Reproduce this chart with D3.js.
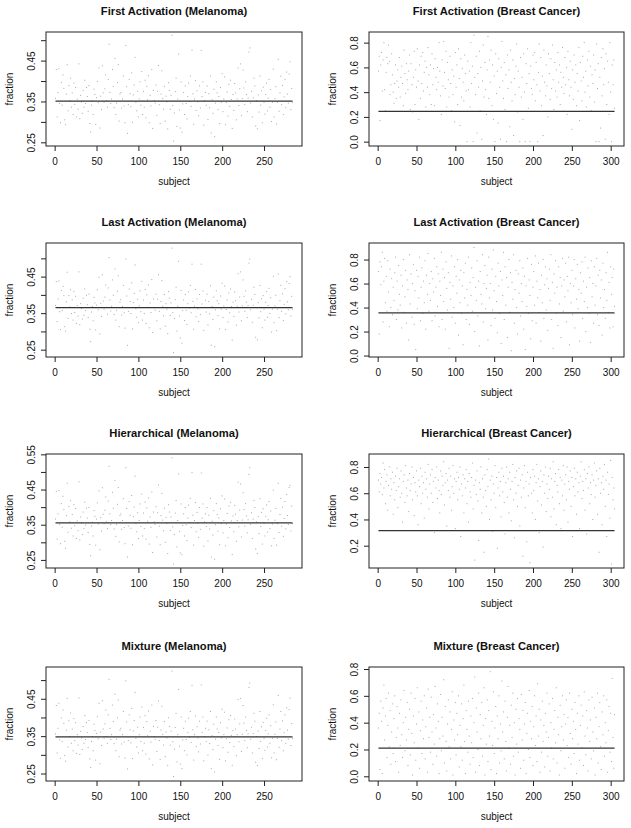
<!DOCTYPE html>
<html>
<head>
<meta charset="utf-8" />
<title>fraction by subject</title>
<script src="https://cdn.jsdelivr.net/npm/d3@7/dist/d3.min.js"></script>
<style>
  body { margin: 0; background: #fff; }
  text { font-family: "Liberation Sans", Arial, Helvetica, sans-serif; fill: #111; }
</style>
</head>
<body>
<div id="chart"></div>
<script>
// melanoma series, values x1000
var faMel = [358,428,312,372,430,345,298,396,341,415,382,305,293,368,440,327,389,352,407,336,
  371,318,395,343,384,312,356,331,442,308,365,349,321,377,336,402,345,384,362,326,
  389,296,275,341,352,318,380,367,294,359,399,347,432,285,363,330,437,371,348,381,
  415,352,336,404,490,372,345,356,428,387,335,455,318,346,396,440,302,368,372,334,
  356,412,339,298,487,386,272,342,404,369,337,420,299,366,390,458,348,327,375,312,
  356,398,341,423,318,374,336,402,310,387,354,413,298,365,339,428,284,377,352,346,
  390,316,375,438,342,296,368,425,357,331,387,302,363,349,283,396,377,331,365,512,
  340,253,322,374,407,289,356,466,329,285,398,275,344,372,318,388,345,307,362,395,
  350,412,338,476,369,294,356,401,328,376,349,315,388,334,475,362,398,292,352,372,
  341,388,306,369,335,412,273,354,321,380,264,346,398,371,330,362,296,384,348,418,
  325,356,410,293,347,373,314,392,338,402,355,284,367,328,394,371,305,356,432,340,
  381,442,316,357,427,383,342,398,367,325,358,471,481,346,375,312,359,407,388,290,
  352,283,366,324,412,341,376,298,385,348,319,367,395,327,358,404,336,379,301,348,
  429,312,357,386,295,348,453,326,371,412,342,389,318,361,404,335,422,368,346,417,
  447,330,382,348];
var laMel = [371,436,327,389,438,354,305,412,357,423,398,313,301,381,462,336,398,367,414,349,
  386,331,409,352,396,322,371,342,463,318,376,363,334,391,344,416,357,399,373,338,
  402,306,272,353,368,329,393,378,304,372,414,359,448,293,377,341,455,383,361,394,
  427,366,347,419,502,386,356,369,441,399,346,471,331,358,410,452,313,380,387,345,
  368,426,351,309,498,397,262,355,416,382,349,433,307,379,404,482,362,339,388,324,
  370,411,354,437,331,386,349,415,322,400,366,427,310,378,352,442,297,389,365,358,
  402,329,388,455,355,307,382,439,369,343,401,314,376,361,294,409,391,344,378,528,
  352,242,335,387,421,301,369,492,342,282,412,268,357,386,330,401,358,319,376,408,
  364,426,351,484,382,306,369,415,340,389,362,327,401,346,484,375,411,303,366,385,
  353,402,318,382,348,425,262,368,333,394,258,359,411,384,343,376,307,397,361,432,
  338,370,424,305,360,386,326,405,351,416,368,276,380,341,408,384,317,369,458,353,
  394,463,329,370,441,396,355,411,380,338,371,487,498,359,388,325,372,421,401,284,
  365,277,379,337,426,354,389,310,398,361,331,380,409,339,371,418,349,392,298,361,
  451,324,370,399,302,361,457,338,384,426,355,403,330,374,417,348,436,381,359,431,
  450,342,396,361];
var hiMel = [366,445,309,381,447,351,296,410,343,431,393,303,283,376,468,329,402,358,418,340,
  379,318,407,347,396,311,361,333,472,307,372,355,322,386,339,414,349,397,369,328,
  399,294,262,346,357,318,390,374,292,366,412,352,446,279,370,332,455,380,353,391,
  429,358,339,417,516,381,350,362,442,397,338,476,317,351,408,456,301,376,381,337,
  362,424,342,296,512,396,258,346,416,377,340,433,293,373,400,488,353,330,384,311,
  362,409,345,437,318,383,339,414,309,398,360,426,295,372,343,443,271,386,358,351,
  401,315,384,463,346,293,376,439,363,333,397,300,370,354,268,407,386,334,372,540,
  344,238,322,383,419,287,362,494,331,270,409,265,348,381,318,399,350,305,369,406,
  356,425,342,498,377,292,362,413,330,385,354,314,399,337,497,369,409,289,358,381,
  345,399,304,377,338,425,258,360,321,390,252,350,410,379,332,369,293,395,353,432,
  327,362,423,290,352,382,313,403,342,414,361,265,375,330,405,380,303,362,471,344,
  392,466,315,363,441,393,346,410,375,327,364,493,512,351,384,311,366,419,399,281,
  358,268,373,325,424,345,385,295,395,353,318,374,406,329,364,416,339,389,290,352,
  448,311,363,396,292,353,468,328,379,425,346,400,317,368,416,338,436,376,351,456,
  462,332,403,353];
var mxMel = [356,432,305,371,438,340,291,399,336,420,384,298,283,366,451,321,391,349,412,331,
  369,311,397,338,386,304,354,326,452,301,363,345,314,376,331,405,341,386,360,320,
  392,289,266,336,349,311,382,365,286,357,402,343,438,276,361,325,445,369,345,383,
  420,349,331,407,502,371,341,354,433,389,330,462,311,342,399,447,295,366,371,329,
  354,416,334,291,498,388,262,338,407,367,332,424,290,364,392,467,344,321,374,305,
  354,401,336,428,311,373,331,405,302,389,351,417,289,363,334,433,273,376,349,342,
  392,309,374,444,338,288,366,430,355,326,389,295,361,345,272,399,376,326,363,524,
  335,242,315,373,411,281,354,475,323,275,401,263,340,371,311,390,341,300,360,398,
  347,416,333,486,367,286,354,404,322,375,345,308,390,329,487,360,401,284,349,371,
  336,390,299,367,330,416,263,351,314,382,254,342,401,369,325,360,288,386,345,422,
  319,354,414,284,343,372,307,394,333,405,352,272,365,322,396,369,298,354,448,335,
  383,451,309,355,432,385,338,401,365,319,356,480,492,342,374,305,357,411,390,280,
  349,271,364,317,416,336,375,290,387,344,312,365,398,321,356,407,331,378,292,344,
  434,305,355,388,287,344,459,320,369,416,338,391,311,359,407,330,426,366,342,421,
  452,325,384,344];

// breast cancer series, values x100
var faBc = [57,69,17,62,72,41,66,80,42,25,56,68,63,78,65,38,46,71,54,40,
  31,47,62,35,49,58,44,68,36,52,61,47,29,74,55,39,63,50,42,57,
  70,26,63,46,24,52,73,30,58,44,75,49,18,62,35,69,47,72,41,56,
  65,28,60,44,76,54,38,62,30,71,46,59,29,67,52,42,60,48,80,57,
  37,22,66,45,81,56,43,73,28,64,50,36,69,47,25,58,38,53,16,72,
  44,62,30,75,51,13,67,36,59,48,33,70,55,41,0,65,42,57,28,80,
  47,61,0,86,52,38,69,7,55,44,73,25,60,2,49,78,36,64,42,22,
  58,85,35,66,48,74,29,62,18,53,0,71,39,57,15,67,44,2,60,81,
  49,35,64,26,54,0,70,43,58,12,74,48,33,66,5,51,38,61,79,24,
  57,44,0,68,36,52,18,71,40,0,63,47,75,27,55,0,61,43,38,70,
  50,72,33,64,46,0,56,79,41,68,29,53,5,74,48,37,62,45,20,71,
  55,34,67,43,78,50,26,64,41,58,36,72,48,62,30,56,44,76,52,39,
  68,46,60,22,73,50,37,65,44,10,58,34,70,48,62,29,55,41,76,17,
  64,49,33,69,52,80,40,57,28,66,45,73,36,61,25,54,47,70,32,58,
  0,79,43,63,0,52,11,68,37,75,46,59,2,71,30,65,48,22,80,40,
  0,62,46,66,27];
var laBc = [70,18,78,59,74,86,28,62,81,44,66,37,79,53,24,72,40,64,34,57,
  46,69,82,30,62,38,75,51,42,67,23,58,80,36,49,71,27,63,55,13,
  84,43,68,32,60,76,26,54,5,71,39,66,48,82,29,57,73,35,62,44,
  79,22,67,51,85,37,60,46,70,29,64,53,81,33,57,74,41,68,24,62,
  50,86,30,72,45,65,22,78,56,38,69,6,61,47,83,32,58,40,74,27,
  66,52,80,17,63,44,71,35,58,9,69,48,77,30,55,42,82,26,61,50,
  73,37,65,90,20,57,46,79,33,62,8,70,51,43,84,28,60,75,39,56,
  67,13,82,48,60,25,72,38,88,54,31,66,45,19,77,58,35,70,10,63,
  50,86,30,74,42,65,15,57,80,36,69,4,61,47,84,27,55,71,40,18,
  68,52,79,33,60,45,73,22,66,5,58,41,81,35,63,50,14,76,29,57,
  70,42,83,27,62,48,77,36,55,12,67,44,80,31,59,74,38,64,21,56,
  72,46,84,30,61,6,68,52,79,35,57,25,74,43,65,15,58,81,37,63,
  49,77,28,66,54,82,9,60,44,71,34,58,80,23,64,47,76,39,55,12,
  69,52,78,31,62,45,82,20,57,40,73,35,65,11,79,49,60,27,74,42,
  58,81,34,67,25,71,48,63,17,77,40,55,31,69,46,86,36,61,23,74,
  51,65,24,72,41];
var hiBc = [70,61,75,67,72,59,83,64,78,52,69,74,47,66,80,58,71,63,76,44,
  68,55,73,62,79,49,65,71,57,77,60,38,69,74,53,81,64,58,70,46,
  75,62,67,80,55,72,43,68,61,77,58,36,70,65,79,52,73,60,68,41,
  76,63,71,57,82,48,67,74,60,78,53,69,30,72,64,80,56,70,62,45,
  77,59,73,66,84,51,68,75,35,70,62,79,57,73,47,65,81,60,71,33,
  69,76,55,72,63,80,27,67,58,74,45,71,64,78,52,69,38,75,61,57,
  72,83,48,66,9,70,59,77,54,24,68,63,80,45,71,57,15,74,62,50,
  78,65,86,40,70,55,73,31,67,60,81,49,72,18,64,76,58,69,42,79,
  61,73,53,29,68,80,57,71,45,76,63,39,69,82,55,26,72,60,77,50,
  66,79,35,70,57,74,12,64,81,49,69,23,76,58,67,7,72,60,45,78,
  62,73,40,68,82,54,71,30,65,77,51,69,19,74,60,80,46,67,56,73,
  63,79,42,71,57,84,48,69,75,36,66,61,78,52,72,33,70,58,81,47,
  67,74,55,80,38,69,63,77,50,72,27,65,79,58,71,44,76,61,68,33,
  73,84,56,69,62,78,47,71,29,75,64,80,52,68,59,74,40,70,83,57,
  66,77,44,71,15,79,60,68,36,73,63,82,50,70,27,76,59,67,41,85,
  6,72,55,64,48];
var mxBc = [36,47,5,56,41,2,51,68,27,45,58,14,38,62,22,49,9,33,54,17,
  43,60,11,29,52,36,3,47,23,57,31,14,40,64,19,44,27,55,8,35,
  50,16,62,32,1,45,25,58,12,39,66,21,48,6,34,56,17,42,28,60,
  13,37,51,3,65,29,44,18,59,33,9,46,24,67,36,15,54,41,2,28,
  61,19,44,30,72,10,52,26,4,39,57,22,48,13,35,63,1,42,27,55,
  16,47,31,60,7,38,22,54,12,43,68,26,2,49,35,18,56,30,9,45,
  25,58,14,40,74,3,51,33,20,62,8,46,28,55,15,38,66,1,43,24,
  57,11,49,30,78,5,41,23,63,17,36,52,2,45,28,60,10,39,19,71,
  33,48,13,56,26,4,44,67,21,38,9,53,29,62,15,40,1,50,24,58,
  18,43,35,6,61,27,49,12,39,55,2,32,47,20,64,14,41,28,52,8,
  37,60,23,45,11,69,30,50,3,42,18,56,26,38,7,47,33,62,15,29,
  54,4,40,21,58,13,35,49,25,66,10,44,31,1,53,19,37,60,27,46,
  6,39,57,23,44,14,62,32,9,50,28,41,17,55,35,2,47,24,60,12,
  38,53,21,45,8,63,30,16,49,36,4,57,26,42,13,59,33,19,51,1,
  44,28,62,10,37,55,22,5,48,31,60,15,40,25,57,3,34,52,18,47,
  11,73,29,6,46];

var titles = ["First Activation (Melanoma)", "First Activation (Breast Cancer)",
  "Last Activation (Melanoma)", "Last Activation (Breast Cancer)",
  "Hierarchical (Melanoma)", "Hierarchical (Breast Cancer)",
  "Mixture (Melanoma)", "Mixture (Breast Cancer)"];
var series = [faMel, faBc, laMel, laBc, hiMel, hiBc, mxMel, mxBc];
var scaleDiv = [1000, 100, 1000, 100, 1000, 100, 1000, 100];
var meanLine = [0.351, 0.245, 0.365, 0.355, 0.355, 0.315, 0.348, 0.21];
var yDomains = [[0.241, 0.520], [-0.035, 0.886], [0.230, 0.542], [-0.012, 0.938],
  [0.227, 0.551], [0.030, 0.899], [0.230, 0.535], [-0.035, 0.815]];
var melTicks = [0.25, 0.30, 0.35, 0.40, 0.45, 0.50, 0.55];
var melLabels = [0.25, 0.35, 0.45, 0.55];
var bcTicks = [0.0, 0.2, 0.4, 0.6, 0.8];
var melXTicks = [0, 50, 100, 150, 200, 250];
var bcXTicks = [0, 50, 100, 150, 200, 250, 300];

var W = 631, H = 828;
var colLeft = [46, 369], colRight = [302, 624];
var rowTop = [32, 243, 454, 667], boxH = 114;

var svg = d3.select("#chart").append("svg")
  .attr("width", W).attr("height", H)
  .style("background", "#fff");

series.forEach(function (vals, i) {
  var col = i % 2, row = Math.floor(i / 2);
  var isMel = col == 0;
  var x0 = colLeft[col], x1 = colRight[col];
  var y0 = rowTop[row], y1 = y0 + boxH;
  var n = vals.length;
  var pad = 0.04 * (n - 1);

  var x = d3.scaleLinear().domain([1 - pad, n + pad]).range([x0, x1]);
  var y = d3.scaleLinear().domain(yDomains[i]).range([y1, y0]);
  var g = svg.append("g");

  // points (pch ".")
  g.append("g").selectAll("rect").data(vals).enter().append("rect")
    .attr("x", function (d, k) { return x(k + 1) - 0.5; })
    .attr("y", function (d) { return y(d / scaleDiv[i]) - 0.5; })
    .attr("width", 1).attr("height", 1)
    .attr("fill", "#a8a8a8");

  // horizontal line
  g.append("line")
    .attr("x1", x(1)).attr("x2", x(n))
    .attr("y1", y(meanLine[i])).attr("y2", y(meanLine[i]))
    .attr("stroke", "#333").attr("stroke-width", 1.2);

  // box
  g.append("rect")
    .attr("x", x0).attr("y", y0).attr("width", x1 - x0).attr("height", boxH)
    .attr("fill", "none").attr("stroke", "#222").attr("stroke-width", 1);

  // x axis
  var xt = isMel ? melXTicks : bcXTicks;
  var xa = g.append("g").attr("transform", "translate(0," + y1 + ")")
    .call(d3.axisBottom(x).tickValues(xt).tickSize(5).tickSizeOuter(0).tickFormat(d3.format("d")));
  xa.select(".domain").remove();
  xa.selectAll("line").attr("stroke", "#222");
  xa.selectAll("text").attr("y", 19).attr("dy", null)
    .style("font-size", "10px").style("font-family", "'Liberation Sans', Arial, sans-serif").attr("fill", "#111");

  // y axis
  var dom = yDomains[i];
  var yt = (isMel ? melTicks : bcTicks).filter(function (v) { return v >= dom[0] - 1e-9 && v <= dom[1] + 0.002; });
  var fmt = isMel ? d3.format(".2f") : d3.format(".1f");
  var ya = g.append("g").attr("transform", "translate(" + x0 + ",0)")
    .call(d3.axisLeft(y).tickValues(yt).tickSize(5).tickSizeOuter(0).tickFormat(function (v) {
      if (isMel && melLabels.indexOf(Math.round(v * 100) / 100) < 0) return "";
      return fmt(v);
    }));
  ya.select(".domain").remove();
  ya.selectAll("line").attr("stroke", "#222");
  ya.selectAll("text")
    .attr("transform", "rotate(-90)")
    .attr("x", 0).attr("y", -11).attr("dy", null)
    .attr("text-anchor", "middle")
    .style("font-size", "10px").style("font-family", "'Liberation Sans', Arial, sans-serif").attr("fill", "#111");

  // titles and axis labels
  g.append("text")
    .attr("x", (x0 + x1) / 2).attr("y", y0 - 17)
    .attr("text-anchor", "middle")
    .style("font-size", "11.2px").style("font-weight", "bold")
    .text(titles[i]);
  g.append("text")
    .attr("x", (x0 + x1) / 2).attr("y", y1 + 38.5)
    .attr("text-anchor", "middle")
    .style("font-size", "10px")
    .text("subject");
  g.append("text")
    .attr("transform", "translate(" + (x0 - 33) + "," + ((y0 + y1) / 2) + ") rotate(-90)")
    .attr("text-anchor", "middle")
    .style("font-size", "10px")
    .text("fraction");
});
</script>
</body>
</html>
